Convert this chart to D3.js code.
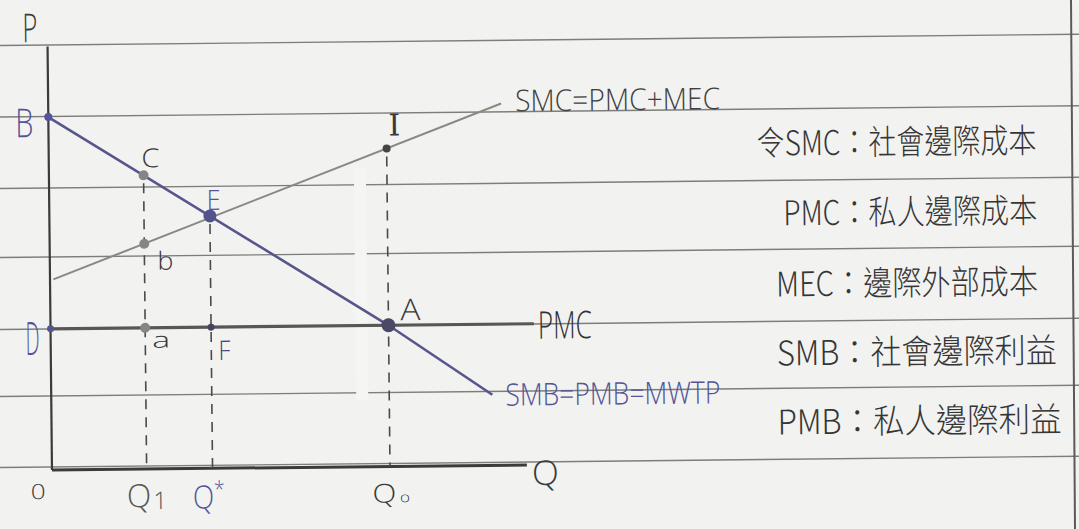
<!DOCTYPE html>
<html>
<head>
<meta charset="utf-8">
<script src="https://cdn.jsdelivr.net/npm/d3@7"></script>
<style>
  html, body { margin: 0; background: #f2f2f0; overflow: hidden; }
  svg { display: block; }
</style>
</head>
<body>
<div id="chart"></div>
<script>
// ---- data (Q = quantity, P = price) ----
var qTickLabels = ["0", "Q", "Q", "Q"];
var qTickSubs = ["", "1", "*", "o"];
var qTickValues = [0, 2.8, 4.75, 10];

var smbCurve = [[0, 10], [10, 4], [13.05, 2]];      // SMB = PMB = MWTP
var smcCurve = [[0.1, 5.4], [13.4, 10.25]];         // SMC = PMC + MEC
var pmcCurve = [[0, 4], [14.3, 4]];                 // PMC

var pointNames = ["B", "C", "E", "b", "I", "D", "a", "F", "A"];
var pointQ = [0, 2.8, 4.75, 2.8, 10, 0, 2.8, 4.75, 10];
var pointP = [10, 8.32, 7.15, 6.38, 9.01, 4, 4, 4, 4];

var guideQ = [2.8, 4.75, 10];
var guideTop = [8.32, 7.15, 9.01];

var legendRows = [
  "令SMC：社會邊際成本",
  "PMC：私人邊際成本",
  "MEC：邊際外部成本",
  "SMB：社會邊際利益",
  "PMB：私人邊際利益"
];

// ---- layout ----
var W = 1079, H = 529;
var purple = "#54549a";
var ink = "#3a3a3a";
var latin = "'Open Sans', 'Noto Sans', sans-serif";
var paperRules = [45, 116.5, 188, 257, 329, 396, 467];

var svg = d3.select("#chart").append("svg").attr("width", W).attr("height", H);
svg.append("rect").attr("width", W).attr("height", H).attr("fill", "#f2f2f0");

// the photo is a little tilted
var g = svg.append("g").attr("transform", "rotate(-0.6 52 470)");

var x = d3.scaleLinear().domain([0, 10]).range([52, 390]);
var y = d3.scaleLinear().domain([0, 10]).range([470, 117]);

// lined paper
g.selectAll("line.rule").data(paperRules).enter().append("line")
  .attr("class", "rule")
  .attr("x1", -20).attr("x2", W + 20)
  .attr("y1", function(d) { return d; }).attr("y2", function(d) { return d; })
  .attr("stroke", "#7d7d7d").attr("stroke-width", 1.4);
// erased strip in the ruling
g.append("rect").attr("x", 357).attr("y", 172).attr("width", 12).attr("height", 232)
  .attr("fill", "#f5f5f3");

// text squeezed to a given width (handwriting is narrow)
function txt(str, px, py, size, len, color, family, anchor, weight) {
  var t = g.append("text")
    .attr("font-size", size)
    .attr("font-family", family || latin)
    .attr("font-weight", weight || 300)
    .attr("fill", color || ink)
    .attr("text-anchor", anchor || "start")
    .text(str);
  var sx = 1;
  if (len) sx = len / t.node().getComputedTextLength();
  t.attr("transform", "translate(" + px + "," + py + ") scale(" + sx + ",1)");
  return t;
}

// axes
g.append("line")
  .attr("x1", x(0)).attr("x2", x(0)).attr("y1", y(12)).attr("y2", y(0))
  .attr("stroke", "#3b3b3b").attr("stroke-width", 2.2);
g.append("line")
  .attr("x1", x(0)).attr("x2", x(14.05)).attr("y1", y(0)).attr("y2", y(0))
  .attr("stroke", "#3b3b3b").attr("stroke-width", 3);

// dashed guides
g.selectAll("line.guide").data(guideQ).enter().append("line")
  .attr("class", "guide")
  .attr("x1", function(d) { return x(d); }).attr("x2", function(d) { return x(d); })
  .attr("y1", function(d, i) { return y(guideTop[i]) + 8; })
  .attr("y2", y(0))
  .attr("stroke", "#4a4a4a").attr("stroke-width", 1.6)
  .attr("stroke-dasharray", "10 8");

var line = d3.line().x(function(d) { return x(d[0]); }).y(function(d) { return y(d[1]); });

g.append("path").datum(smcCurve).attr("d", line)
  .attr("fill", "none").attr("stroke", "#8a8980").attr("stroke-width", 2);
g.append("path").datum(pmcCurve).attr("d", line)
  .attr("fill", "none").attr("stroke", "#575757").attr("stroke-width", 3.2);
g.append("path").datum(smbCurve).attr("d", line)
  .attr("fill", "none").attr("stroke", "#56568c").attr("stroke-width", 2.6);

// points
var pointR = [4, 5, 6.5, 5, 4, 3.5, 5, 3.5, 7];
var pointFill = [purple, "#858585", "#52528c", "#858585", "#444", "#55558f", "#858585", "#44445e", "#4a4a66"];
g.selectAll("circle.pt").data(pointNames).enter().append("circle")
  .attr("class", "pt")
  .attr("cx", function(d, i) { return x(pointQ[i]); })
  .attr("cy", function(d, i) { return y(pointP[i]); })
  .attr("r", function(d, i) { return pointR[i]; })
  .attr("fill", function(d, i) { return pointFill[i]; });

// point labels: offset from the point, size, squeezed width, colour
var labelDx = [-33, -2, -3, 13, 2, -25, 7, 7, 12];
var labelDy = [20, -8, -6, 26, -13, 26, 20, 33, -5];
var labelSize = [40, 26, 28, 25, 30, 46, 22, 27, 30];
var labelLen = [18, 18, 14, 16, 0, 14, 18, 12, 20];
var labelColor = [purple, ink, purple, ink, ink, purple, ink, "#45457a", ink];
pointNames.forEach(function(n, i) {
  if (n === "I") txt(n, x(pointQ[i]) + labelDx[i], y(pointP[i]) + labelDy[i], labelSize[i], 0,
                     labelColor[i], "'DejaVu Serif', serif", null, 400);
  else txt(n, x(pointQ[i]) + labelDx[i], y(pointP[i]) + labelDy[i], labelSize[i], labelLen[i], labelColor[i]);
});

// axis titles
txt("P", x(0) - 25, 42, 40, 15);
txt("Q", x(14.05) + 5, 490, 34, 27);

// quantity ticks
var tickDx = [-14, 0, -4, 1];
var tickDy = [29, 38, 40, 36];
var tickSize = [21, 32, 32, 26];
var tickLen = [15, 38, 32, 34];
var tickColor = [ink, "#555", purple, ink];
qTickLabels.forEach(function(lab, i) {
  var t = g.append("text")
    .attr("font-size", tickSize[i]).attr("font-family", latin).attr("font-weight", 300)
    .attr("fill", tickColor[i]).attr("text-anchor", "middle").text(lab);
  if (qTickSubs[i] === "1") t.append("tspan").attr("font-size", "0.75em").attr("dx", 2).attr("dy", 2).text("1");
  if (qTickSubs[i] === "*") t.append("tspan").attr("font-size", "0.7em").attr("dy", -11).text("*");
  if (qTickSubs[i] === "o") t.append("tspan").attr("font-size", "0.55em").attr("dx", 3).text("o");
  var sx = tickLen[i] / t.node().getComputedTextLength();
  t.attr("transform", "translate(" + (x(qTickValues[i]) + tickDx[i]) + "," + (y(0) + tickDy[i]) + ") scale(" + sx + ",1)");
});

// curve labels
txt("SMC=PMC+MEC", x(13.4) + 14, y(10.25) + 8, 30, 205, "#3f3f3f");
txt("PMC", x(14.3) + 4, y(4) + 15, 38, 54, "#333");
txt("SMB=PMB=MWTP", x(13.05) + 13, y(2) + 11, 31, 215, purple);

// definitions on the right
var rowLeft = [760, 786, 778, 778, 778];
var rowRight = [1040, 1040, 1040, 1058, 1062];
var rowBase = [163, 233, 304, 373, 442];
legendRows.forEach(function(r, i) {
  txt(r, rowLeft[i], rowBase[i], 34, rowRight[i] - rowLeft[i], "#353535", "'Noto Sans CJK TC', sans-serif");
});

// right edge of the ruled box
svg.append("path")
  .attr("d", "M1070,0 L1074,529 L1076,529 L1072,0 Z")
  .attr("fill", "#5a5a5a");
</script>
</body>
</html>
